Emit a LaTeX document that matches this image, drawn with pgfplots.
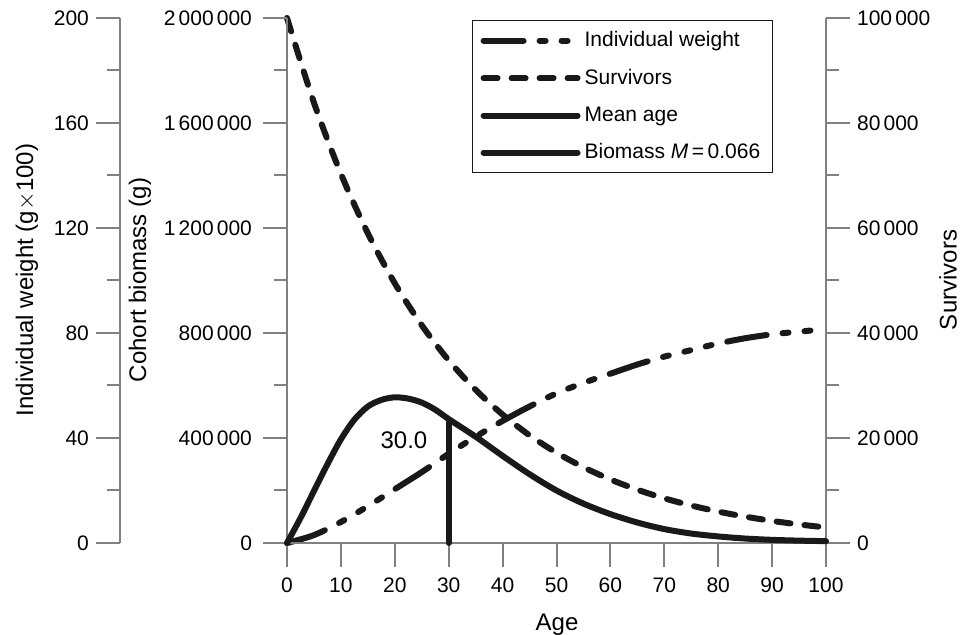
\documentclass[border=0pt]{standalone}
\usepackage{pgfplots}
\pgfplotsset{compat=1.18}
\usepackage{fontspec}
\setmainfont{Liberation Sans}
\definecolor{axgray}{RGB}{128,128,128}
\definecolor{ink}{RGB}{25,25,25}

\tikzset{
 weightstyle/.style={ink, line width=3pt, line cap=round, dash pattern=on 20pt off 8pt on 3pt off 8pt on 3pt off 8pt on 3pt off 8pt},
 survstyle/.style={ink, line width=3pt, line cap=round, dash pattern=on 7pt off 7pt},
 solidstyle/.style={ink, line width=3pt, line cap=round},
}

\pgfplotsset{
 base/.style={
  width=269.5pt, height=262.5pt, scale only axis,
  xmin=0, xmax=100, clip=false,
  tick align=outside,
  major tick length=12pt, minor tick length=6.5pt,
  every tick/.append style={axgray, line width=1pt},
  axis line style={axgray, line width=1pt},
  tick label style={font=\fontsize{10.5}{12}\selectfont, black},
  scaled y ticks=false,
  /pgf/number format/fixed,
  /pgf/number format/precision=0,
  /pgf/number format/1000 sep={\hspace{0.15em}},
  /pgf/number format/assume math mode=true,
 },
}

\begin{document}
\begin{tikzpicture}
\path[use as bounding box] (-143.5pt,-46pt) rectangle (337.5pt,271.5pt);

% individual weight axis (far left)
\begin{axis}[base, ymin=0, ymax=200, axis y line*=left, axis x line=none,
  axis y line shift=83.5pt,
  ytick={0,40,...,200}, minor ytick={20,60,...,180}]
\addplot[weightstyle, smooth] coordinates {
(0,0) (5,3) (10,8) (15,14) (20,20.5) (25,27) (30,34) (35,40.5) (40,46.5)
(45,52) (50,57) (55,61) (60,64.5) (65,68) (70,71) (75,73.5) (80,76)
(85,78) (90,79.5) (95,80.5) (100,81.5)};
\end{axis}

% survivors axis (right)
\begin{axis}[base, ymin=0, ymax=100000, axis y line*=right, axis x line=none,
  ytick={0,20000,...,100000}, minor ytick={10000,30000,...,90000},
  yticklabel style={anchor=west}]
\addplot[survstyle, smooth] coordinates {
(0,100000) (5,83860) (10,70330) (15,58980) (20,49460) (25,41480) (30,34780)
(35,29170) (40,24460) (45,20510) (50,17200) (55,14430) (60,12100) (65,10150)
(70,8510) (75,7140) (80,5980) (85,5020) (90,4210) (95,3530) (100,2960)};
\end{axis}

% cohort biomass axis (main)
\begin{axis}[base, ymin=0, ymax=2000000, axis x line*=bottom, axis y line*=left,
  xtick={0,10,...,100}, ytick={0,400000,...,2000000},
  minor ytick={200000,600000,...,1800000},
  xticklabel style={yshift=-2pt},
  yticklabel style={xshift=-2pt},
  legend image code/.code={\draw[#1] (0pt,0pt) -- (47pt,0pt);},
  legend cell align=left,
  legend style={at={(0.3432,0.9962)}, anchor=north west, draw=ink, line width=0.6pt,
    font=\fontsize{10.5}{12}\selectfont, row sep=5.7pt, inner xsep=4pt, inner ysep=3.5pt,
    /tikz/every even column/.append style={column sep=2pt}}]
\addlegendimage{weightstyle}
\addlegendentry{Individual weight}
\addlegendimage{survstyle}
\addlegendentry{Survivors}
\addplot[solidstyle] coordinates {(30,0) (30,470000)};
\addlegendentry{Mean age}
\addplot[solidstyle, smooth] coordinates {
(0,0) (2.5,95000) (5,198000) (7.5,300000) (10,395000) (12.5,470000) (15,520000)
(17.5,545000) (20,555000) (22.5,550000) (25,535000) (27.5,508000) (30,472000)
(35,405000) (40,332000) (45,262000) (50,200000) (55,150000) (60,110000)
(65,78000) (70,53000) (75,36000) (80,25000) (85,17000) (90,12000) (95,9000) (100,7000)};
\addlegendentry{Biomass \textit{M}\,=\,0.066}
\node[font=\fontsize{12}{14}\selectfont] at (axis cs:21.7,392000) {30.0};
\end{axis}

\node[rotate=90, font=\fontsize{12}{14}\selectfont] at (-130pt,131.5pt) {Individual weight (g$\times$100)};
\node[rotate=90, font=\fontsize{12}{14}\selectfont] at (-73.5pt,131.5pt) {Cohort biomass (g)};
\node[rotate=90, font=\fontsize{12}{14}\selectfont] at (330.5pt,131.5pt) {Survivors};
\node[font=\fontsize{12}{14}\selectfont] at (135pt,-41pt) {Age};
\end{tikzpicture}
\end{document}
